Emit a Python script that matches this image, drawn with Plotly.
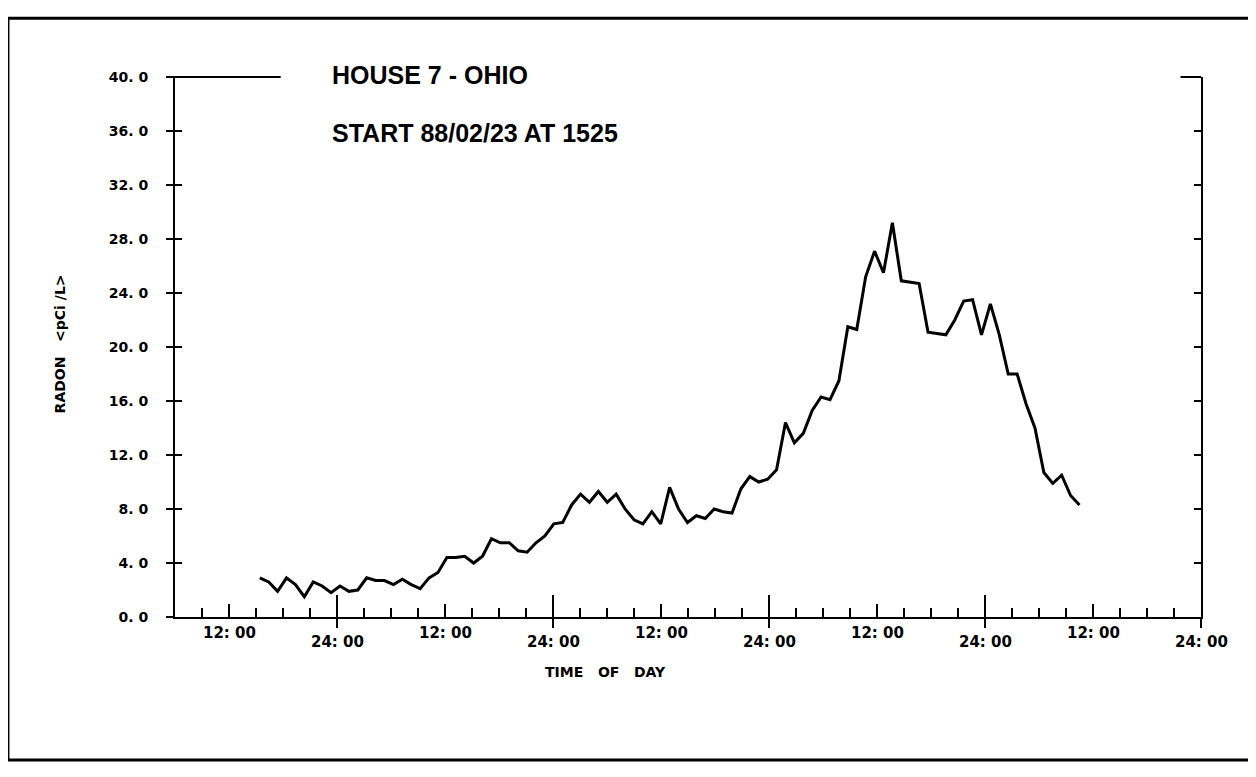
import plotly.graph_objects as go

# ---------------- data ----------------
START_HOUR = 15.42          # 88/02/23 at 15:25, hours after midnight of day 1
STEP_HOURS = 0.99           # sampling interval (about hourly)
radon = [2.9, 2.6, 1.9, 2.9, 2.4, 1.5, 2.6, 2.3, 1.8, 2.3,
         1.9, 2.0, 2.9, 2.7, 2.7, 2.4, 2.8, 2.4, 2.1, 2.9,
         3.3, 4.4, 4.4, 4.5, 4.0, 4.5, 5.8, 5.5, 5.5, 4.9,
         4.8, 5.5, 6.0, 6.9, 7.0, 8.3, 9.1, 8.5, 9.3, 8.5,
         9.1, 8.0, 7.2, 6.9, 7.8, 6.9, 9.6, 8.0, 7.0, 7.5,
         7.3, 8.0, 7.8, 7.7, 9.5, 10.4, 10.0, 10.2, 10.9, 14.4,
         12.9, 13.6, 15.3, 16.3, 16.1, 17.5, 21.5, 21.3, 25.2, 27.1,
         25.5, 29.2, 24.9, 24.8, 24.7, 21.1, 21.0, 20.9, 22.0, 23.4,
         23.5, 20.9, 23.2, 20.9, 18.0, 18.0, 15.8, 14.0, 10.7, 9.9,
         10.5, 9.0, 8.3]
hours = [START_HOUR + i * STEP_HOURS for i in range(len(radon))]

X_RANGE = [6, 120]
Y_RANGE = [0, 40]
y_ticks = [0, 4, 8, 12, 16, 20, 24, 28, 32, 36, 40]
y_ticktext = ["0. 0", "4. 0", "8. 0", "12. 0", "16. 0", "20. 0", "24. 0",
              "28. 0", "32. 0", "36. 0", "40. 0"]
noon_ticks = [12, 36, 60, 84, 108]
midnight_ticks = [24, 48, 72, 96, 120]
noon_label = "12: 00"
midnight_label = "24: 00"

title_lines = ["HOUSE 7 - OHIO", "START 88/02/23 AT 1525"]
y_title = "RADON   &lt;pCi /L&gt;"
x_title = "TIME   OF   DAY"

TICK_FONT = dict(family="DejaVu Sans, Verdana, sans-serif", size=14, color="black", weight="bold")
XLAB_FONT = dict(family="DejaVu Sans, Verdana, sans-serif", size=15, color="black", weight="bold")
SMALL_FONT = dict(family="DejaVu Sans, Verdana, sans-serif", size=14, color="black", weight="bold")
TITLE_FONT = dict(family="Liberation Sans, Arial, sans-serif", size=25, color="black", weight="bold")

fig = go.Figure()
fig.add_trace(go.Scatter(x=hours, y=radon, mode="lines",
                         line=dict(color="black", width=3),
                         showlegend=False, hoverinfo="skip"))
# helper traces so the overlay axes are drawn
for xa, ya in [("x2", "y"), ("x3", "y"), ("x", "y2"), ("x", "y3")]:
    fig.add_trace(go.Scatter(x=[None], y=[None], xaxis=xa, yaxis=ya,
                             showlegend=False, hoverinfo="skip"))

common_x = dict(range=X_RANGE, showgrid=False, zeroline=False, automargin=False,
                showticklabels=False, tickcolor="black", tickwidth=2)
fig.update_layout(
    width=1256, height=777,
    margin=dict(l=167, r=63, t=69, b=168),
    paper_bgcolor="white", plot_bgcolor="white",
    showlegend=False,
    xaxis=dict(**common_x, showline=True, linecolor="black", linewidth=2,
               ticks="inside", tickmode="array", tickvals=noon_ticks, ticklen=13,
               minor=dict(ticks="inside", tick0=0, dtick=3, ticklen=9,
                          tickwidth=2, tickcolor="black", showgrid=False)),
    xaxis2=dict(**common_x, overlaying="x", anchor="y", side="bottom",
                showline=False, ticks="outside", tickmode="array",
                tickvals=midnight_ticks, ticklen=10),
    xaxis3=dict(**common_x, overlaying="x", anchor="y", side="bottom",
                showline=False, ticks="inside", tickmode="array",
                tickvals=midnight_ticks, ticklen=22),
    yaxis=dict(range=Y_RANGE, showgrid=False, zeroline=False, automargin=False,
               showline=True, linecolor="black", linewidth=2,
               ticks="outside", ticklen=7, tickwidth=2, tickcolor="black",
               tickmode="array", tickvals=y_ticks, ticktext=y_ticktext,
               tickfont=TICK_FONT, ticklabelstandoff=15),
    yaxis2=dict(range=Y_RANGE, overlaying="y", side="left", anchor="x",
                showgrid=False, zeroline=False, automargin=False, showline=False,
                ticks="inside", ticklen=7, tickwidth=2, tickcolor="black",
                tickmode="array", tickvals=y_ticks, showticklabels=False),
    yaxis3=dict(range=Y_RANGE, overlaying="y", side="right", anchor="x",
                showgrid=False, zeroline=False, automargin=False,
                showline=True, linecolor="black", linewidth=2,
                ticks="inside", ticklen=7, tickwidth=2, tickcolor="black",
                tickmode="array", tickvals=y_ticks, showticklabels=False),
)

# x tick labels (staggered rows)
for h in noon_ticks:
    fig.add_annotation(x=h, y=-0.03, xref="x", yref="paper", text=noon_label,
                       showarrow=False, xanchor="center", yanchor="middle", font=XLAB_FONT)
for h in midnight_ticks:
    fig.add_annotation(x=h, y=-0.046, xref="x", yref="paper", text=midnight_label,
                       showarrow=False, xanchor="center", yanchor="middle", font=XLAB_FONT)

fig.add_annotation(x=0.42, y=-0.102, xref="paper", yref="paper", text=x_title,
                   showarrow=False, xanchor="center", yanchor="middle", font=SMALL_FONT)
fig.add_annotation(x=-0.112, y=0.505, xref="paper", yref="paper", text=y_title,
                   textangle=-90, showarrow=False, xanchor="center", yanchor="middle",
                   font=SMALL_FONT)

fig.add_annotation(x=0.151, y=1.004, xref="paper", yref="paper", text=title_lines[0],
                   showarrow=False, xanchor="left", yanchor="middle", font=TITLE_FONT)
fig.add_annotation(x=0.151, y=0.897, xref="paper", yref="paper", text=title_lines[1],
                   showarrow=False, xanchor="left", yanchor="middle", font=TITLE_FONT)

# top line at 40 beside the title, right-axis top stub, and outer frame
fig.add_shape(type="line", xref="paper", yref="paper", x0=-0.004, x1=0.103, y0=1, y1=1,
              line=dict(color="black", width=2))
fig.add_shape(type="line", xref="paper", yref="paper", x0=0.98, x1=1.0, y0=1, y1=1,
              line=dict(color="black", width=2))
fig.add_shape(type="rect", xref="paper", yref="paper", x0=-0.1628, x1=1.0497,
              y0=-0.265, y1=1.109, line=dict(color="black", width=3))

fig.write_html("out.html")
